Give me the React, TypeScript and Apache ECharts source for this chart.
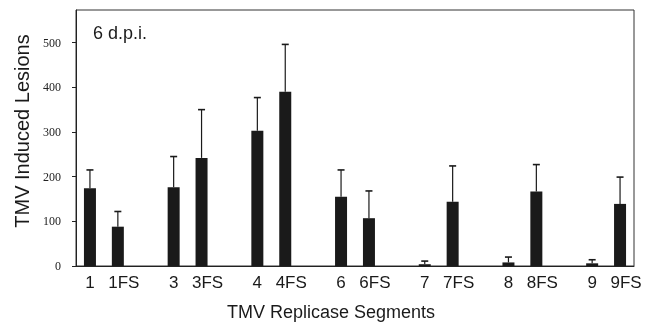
import React, { useEffect, useRef } from "react";
import * as echarts from "echarts";

const segments = ["1", "3", "4", "6", "7", "8", "9"];
const nativeValues = [174, 176, 303, 155, 4, 8, 6];
const nativeErrors = [41, 69, 74, 60, 7, 12, 8];
const fsValues = [88, 242, 390, 107, 144, 167, 139];
const fsErrors = [34, 108, 106, 61, 80, 60, 60];
const yTickValues = [0, 100, 200, 300, 400, 500];

export default function App() {
  const ref = useRef<HTMLDivElement>(null);
  useEffect(() => {
    if (!ref.current) return;
    const chart = echarts.init(ref.current, null, { renderer: "svg" });

    // Build a category axis: native, FS, spacer for each segment (no trailing spacer)
    const cats: string[] = [];
    const barData: any[] = [];
    const errData: any[] = [];
    segments.forEach((s, g) => {
      cats.push(s);
      barData.push(nativeValues[g]);
      errData.push([cats.length - 1, nativeValues[g], nativeErrors[g]]);
      cats.push(s + "FS");
      barData.push(fsValues[g]);
      errData.push([cats.length - 1, fsValues[g], fsErrors[g]]);
      if (g < segments.length - 1) {
        cats.push("");
        barData.push(null);
      }
    });

    const option: any = {
      animation: false,
      grid: {
        left: 76,
        top: 10,
        right: 20,
        bottom: 60,
        show: true,
        borderColor: "#333",
        borderWidth: 1,
        backgroundColor: "transparent",
      },
      xAxis: {
        type: "category",
        data: cats,
        axisLine: { show: true, lineStyle: { color: "#222", width: 1 } },
        axisTick: { show: false },
        axisLabel: {
          interval: 0,
          margin: 8,
          color: "#1a1a1a",
          fontFamily: "Liberation Sans",
          fontSize: 17,
          formatter: (v: string) => (v.endsWith("FS") ? "{fs|" + v + "}" : v),
          rich: {
            fs: {
              fontFamily: "Liberation Sans",
              fontSize: 17,
              color: "#1a1a1a",
              padding: [0, 0, 0, 12],
            },
          },
        },
        name: "TMV Replicase Segments",
        nameLocation: "middle",
        nameGap: 37,
        nameTextStyle: {
          fontFamily: "Liberation Sans",
          fontSize: 18,
          color: "#1a1a1a",
          padding: [0, 48, 0, 0],
        },
        splitLine: { show: false },
      },
      yAxis: {
        type: "value",
        min: 0,
        max: 573,
        interval: 100,
        axisLine: { show: true, lineStyle: { color: "#222", width: 1 } },
        axisTick: {
          show: true,
          length: 4,
          customValues: yTickValues,
          lineStyle: { color: "#222" },
        },
        axisLabel: {
          customValues: yTickValues,
          margin: 15,
          color: "#222",
          fontFamily: "Liberation Serif",
          fontSize: 12,
        },
        splitLine: { show: false },
        name: "TMV Induced Lesions",
        nameLocation: "middle",
        nameGap: 44,
        nameRotate: 90,
        nameTextStyle: {
          fontFamily: "Liberation Sans",
          fontSize: 20,
          color: "#1a1a1a",
          padding: [0, 0, 0, 14],
        },
      },
      graphic: [
        {
          type: "text",
          left: 93,
          top: 24,
          style: {
            text: "6 d.p.i.",
            fontFamily: "Liberation Sans",
            fontSize: 18,
            fill: "#1a1a1a",
          },
        },
      ],
      series: [
        {
          type: "bar",
          data: barData,
          barWidth: 12,
          itemStyle: { color: "#1a1a1a" },
        },
        {
          type: "custom",
          data: errData,
          z: 1,
          renderItem: (params: any, api: any) => {
            const idx = api.value(0);
            const v = api.value(1);
            const e = api.value(2);
            const p0 = api.coord([idx, v]);
            const p1 = api.coord([idx, v + e]);
            const style = { stroke: "#1a1a1a", lineWidth: 1.2 };
            return {
              type: "group",
              children: [
                {
                  type: "line",
                  shape: { x1: p0[0], y1: p0[1], x2: p1[0], y2: p1[1] },
                  style,
                },
                {
                  type: "line",
                  shape: { x1: p1[0] - 3.5, y1: p1[1], x2: p1[0] + 3.5, y2: p1[1] },
                  style: { stroke: "#1a1a1a", lineWidth: 1.6 },
                },
              ],
            };
          },
        },
      ],
    };
    chart.setOption(option);
    return () => chart.dispose();
  }, []);
  return (
    <div style={{ position: "fixed", left: 0, top: 0, width: 654, height: 326 }}>
      <div ref={ref} style={{ width: 654, height: 326 }} />
    </div>
  );
}
